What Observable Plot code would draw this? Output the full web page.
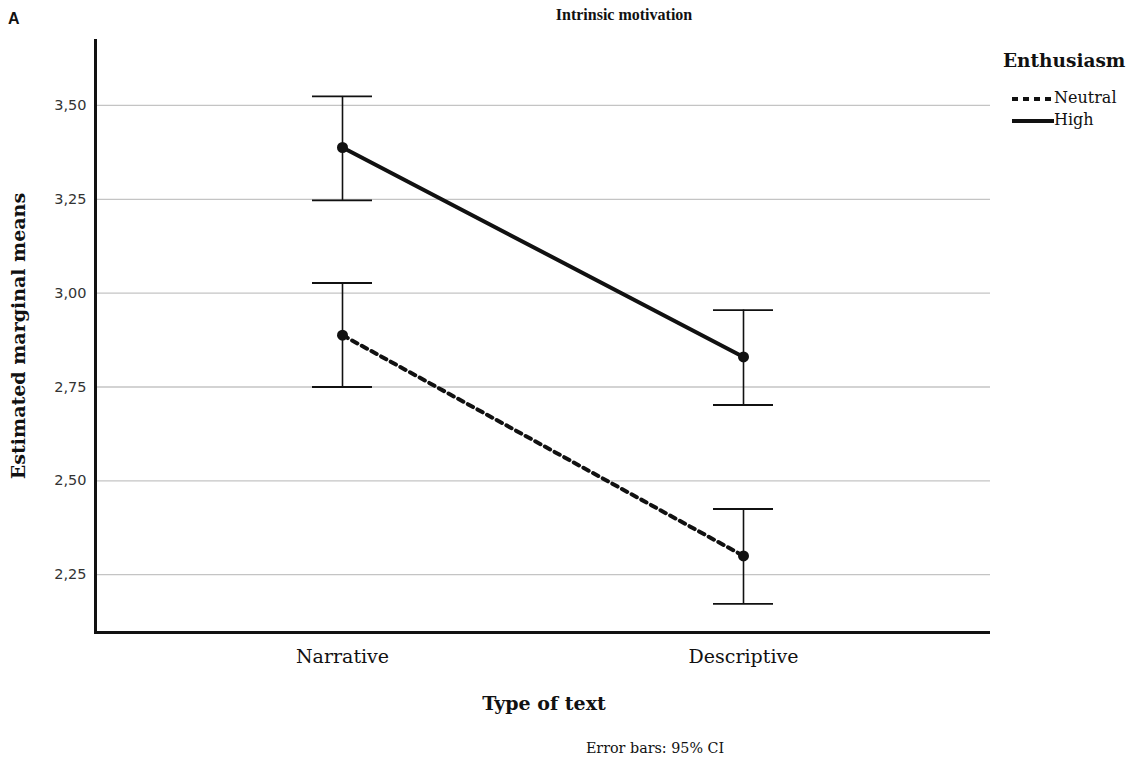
<!DOCTYPE html>
<html>
<head>
<meta charset="utf-8">
<script src="https://cdn.jsdelivr.net/npm/d3@7"></script>
<script src="https://cdn.jsdelivr.net/npm/@observablehq/plot@0.6"></script>
<style>
  body { margin: 0; background: #fff; }
  #wrap { position: relative; width: 1133px; height: 766px; font-family: "DejaVu Serif", serif; color: #111; }
  .abs { position: absolute; white-space: nowrap; }
</style>
</head>
<body>
<div id="wrap">
  <div id="chart" class="abs" style="left:0;top:0"></div>
  <div class="abs" style="left:8px;top:10px;font-family:'Liberation Sans',Arial,sans-serif;font-weight:bold;font-size:16px;">A</div>
  <div class="abs" style="left:624px;top:6px;transform:translateX(-50%);font-family:'Liberation Serif',serif;font-weight:bold;font-size:16px;">Intrinsic motivation</div>
  <div class="abs" style="left:18px;top:336px;transform:translate(-50%,-50%) rotate(-90deg);font-weight:bold;font-size:19px;">Estimated marginal means</div>
  <div class="abs" style="left:544px;top:692px;transform:translateX(-50%);font-weight:bold;font-size:19px;">Type of text</div>
  <div class="abs" style="left:655px;top:740px;transform:translateX(-50%);font-size:14.3px;">Error bars: 95% CI</div>
  <div class="abs" style="left:1003px;top:50px;font-weight:bold;font-size:18.5px;">Enthusiasm</div>
  <div class="abs" style="left:1012px;top:87px;font-size:16px;line-height:22px;">
    <div><svg width="42" height="10" style="vertical-align:middle"><line x1="0" y1="5" x2="42" y2="5" stroke="#111" stroke-width="4" stroke-dasharray="6 5"/></svg>Neutral</div>
    <div><svg width="42" height="10" style="vertical-align:middle"><line x1="0" y1="5" x2="42" y2="5" stroke="#111" stroke-width="4"/></svg>High</div>
  </div>
</div>
<script>
const textTypes = ["Narrative", "Descriptive"];
const groups = ["Neutral", "High"];
const neutralMean = [2.888, 2.300];
const neutralLow  = [2.750, 2.172];
const neutralHigh = [3.027, 2.425];
const highMean = [3.388, 2.830];
const highLow  = [3.247, 2.702];
const highHigh = [3.524, 2.955];
const yTicks = [2.25, 2.50, 2.75, 3.00, 3.25, 3.50];

const rows = [];
textTypes.forEach((t, i) => {
  rows.push({type: t, group: "Neutral", mean: neutralMean[i], lo: neutralLow[i], hi: neutralHigh[i]});
  rows.push({type: t, group: "High", mean: highMean[i], lo: highLow[i], hi: highHigh[i]});
});
const yMin = 2.096, yMax = 3.673;

const plot = Plot.plot({
  width: 1133,
  height: 766,
  marginLeft: 95,
  marginRight: 143,
  marginTop: 40,
  marginBottom: 134,
  style: {fontFamily: "'DejaVu Serif',serif", background: "transparent", color: "#111"},
  x: {type: "band", domain: textTypes, paddingInner: 0.85, paddingOuter: 0.54, label: null},
  y: {domain: [yMin, yMax], label: null},
  marks: [
    Plot.gridY(yTicks, {stroke: "#c4c4c4", strokeOpacity: 1, strokeWidth: 1.3}),
    Plot.axisY(yTicks, {tickSize: 0, tickPadding: 9, fontSize: 14.5, fontFamily: "'DejaVu Sans',sans-serif", fill: "#333", tickFormat: d => d3.format(".2f")(d).replace(".", ","), label: null}),
    Plot.axisX({tickSize: 0, tickPadding: 17, fontSize: 19, fontFamily: "'DejaVu Serif',serif", fill: "#111", label: null}),
    Plot.ruleX(rows, {x: "type", y1: "lo", y2: "hi", stroke: "#111", strokeWidth: 1.6}),
    Plot.tickY(rows, {x: "type", y: "lo", stroke: "#111", strokeWidth: 1.8}),
    Plot.tickY(rows, {x: "type", y: "hi", stroke: "#111", strokeWidth: 1.8}),
    Plot.line(rows.filter(d => d.group === "High"), {x: "type", y: "mean", stroke: "#111", strokeWidth: 4}),
    Plot.line(rows.filter(d => d.group === "Neutral"), {x: "type", y: "mean", stroke: "#111", strokeWidth: 4, strokeDasharray: "6 5"}),
    Plot.dot(rows, {x: "type", y: "mean", r: 5.5, fill: "#111"}),
    Plot.ruleY([yMin], {stroke: "#111", strokeWidth: 3}),
    Plot.frame({anchor: "left", stroke: "#111", strokeWidth: 3})
  ]
});
document.getElementById("chart").appendChild(plot);
</script>
</body>
</html>
